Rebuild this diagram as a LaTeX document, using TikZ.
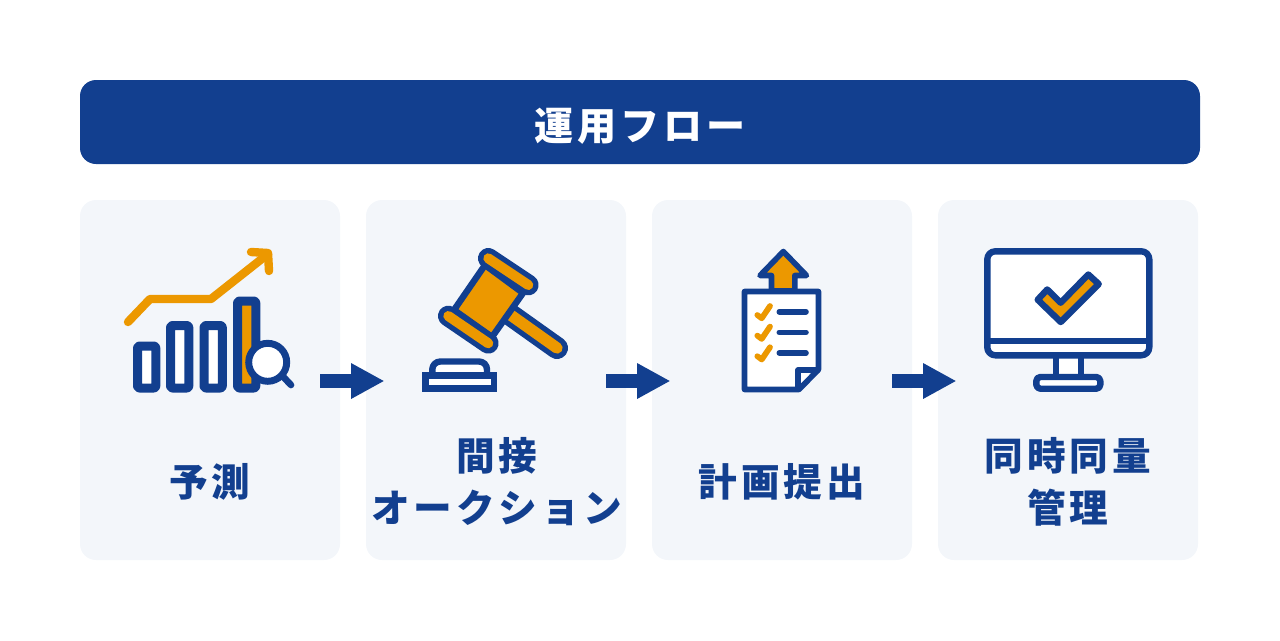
\documentclass[tikz,border=0pt]{standalone}
\usepackage{fontspec}
\usetikzlibrary{arrows.meta}
\newfontfamily\jpfont[LetterSpace=10]{Noto Sans CJK JP}
\definecolor{navy}{HTML}{123F8F}
\definecolor{amber}{HTML}{EC9800}
\definecolor{cardbg}{HTML}{F3F6FA}
\tikzset{
    card/.style={fill=cardbg, draw=none, rounded corners=12pt, minimum width=195pt, minimum height=270pt, inner sep=0pt},
    cardtext/.style={font=\jpfont\bfseries\fontsize{29}{39}\selectfont, text=navy, align=center, inner sep=0pt},
    flowarrow/.style={draw=navy, line width=10pt, -{Triangle[length=25pt,width=25pt]}},
    outline/.style={draw=navy, line width=4.8pt, line join=round, line cap=round},
    barline/.style={draw=navy, line width=6.75pt, line join=round, rounded corners=1.5pt},
    thinline/.style={draw=navy, line width=4.2pt, line join=round, line cap=round},
    orangeline/.style={draw=amber, line width=6.3pt, line join=round, line cap=round},
}
\begin{document}
\begin{tikzpicture}[x=0.75pt,y=-0.75pt]
\useasboundingbox (0,0) rectangle (1280,640);
%
\node[fill=navy, rounded corners=12pt, minimum width=840pt, minimum height=63pt, inner sep=0pt] (header) at (640,122) {};
\node[font=\jpfont\bfseries\fontsize{29.3}{39}\selectfont, text=white, inner sep=0pt] (title) at (640,126) {運用フロー};
%
\node[card] (card1) at (210,380) {};
\node[card] (card2) at (496,380) {};
\node[card] (card3) at (782,380) {};
\node[card] (card4) at (1068,380) {};
%
\node[cardtext] (label1) at (210,482) {予測};
\node[cardtext] (label2) at (497,482) {間接\\オークション};
\node[cardtext] (label3) at (782,482) {計画提出};
\node[cardtext] (label4) at (1068,482) {同時同量\\管理};
%
\foreach \i/\j in {1/2,2/3,3/4} {
    \draw[flowarrow] ([shift={(-15pt,-0.75pt)}]card\i.east) -- ([shift={(14pt,-0.75pt)}]card\j.west);
}
%
% forecast icon
\draw[orangeline] (128,322) -- (150,299) -- (211,299) -- (268,254);
\draw[orangeline] (251,252) -- (268,253) -- (269,271);
\foreach \x/\y in {137.5/346,170.5/325.5,204/325.5} {
    \draw[barline, fill=white] (\x,\y) rectangle (\x+18.3,388);
}
\draw[barline, fill=amber] (237.5,301) rectangle (255.8,388);
\draw[thinline, line width=5pt] (283,376.5) -- (291,385);
\draw[draw=navy, line width=5.2pt, fill=white] (267.7,362.3) circle [radius=19];
%
% gavel icon
\draw[draw=navy, line width=16.5pt, line cap=round] (505,311) -- (557,348);
\draw[draw=amber, line width=8.5pt, line cap=round] (505,311) -- (557,348);
\draw[outline, fill=amber, line cap=butt] (485,265) -- (523,293) -- (492,337) -- (454,310) -- cycle;
\draw[draw=navy, line width=15.5pt, line cap=round] (488.3,258.3) -- (528.3,285);
\draw[draw=amber, line width=7.5pt, line cap=round] (488.3,258.3) -- (528.3,285);
\draw[draw=navy, line width=15.5pt, line cap=round] (448.3,316) -- (488.3,343.3);
\draw[draw=amber, line width=7.5pt, line cap=round] (448.3,316) -- (488.3,343.3);
\draw[outline, fill=white, line cap=butt, rounded corners=6pt] (432.3,378) -- (432.3,361.5) -- (487,361.5) -- (487,378);
\draw[outline, fill=white, line cap=butt, line join=miter] (425.5,375.5) rectangle (494,388.5);
%
% document icon
\draw[thinline, fill=amber] (783.3,251.5) -- (806.5,275.5) -- (794.8,275.5) -- (794.8,291) -- (771.5,291) -- (771.5,275.5) -- (760,275.5) -- cycle;
\draw[thinline, fill=white] (744.5,291.5) -- (818.5,291.5) -- (818.5,369.5) -- (799,389.5) -- (744.5,389.5) -- cycle;
\draw[thinline] (818,370) -- (798,370) -- (798,389);
\foreach \y in {0,20.6,41.2} {
    \draw[draw=amber, line width=4.3pt, line cap=round, line join=round] (757.3,315+\y) -- (761.7,318.3+\y) -- (770,306+\y);
    \draw[thinline] (779.3,311.7+\y) -- (806,311.7+\y);
}
%
% monitor icon
\draw[outline, fill=white] (1055.7,352) rectangle (1081,377);
\draw[outline, fill=white, rounded corners=3pt] (1036.3,377) rectangle (1100.3,388.7);
\draw[outline, fill=white, rounded corners=6pt] (987.3,251.3) rectangle (1149.3,355.3);
\draw[outline, line cap=butt] (987.3,340.7) -- (1149.3,340.7);
\draw[outline, fill=amber] (1037.7,299.7) -- (1047.2,289.5) -- (1060.7,302.7) -- (1088.3,274.5) -- (1098.7,284) -- (1060.7,322) -- cycle;
\end{tikzpicture}
\end{document}
